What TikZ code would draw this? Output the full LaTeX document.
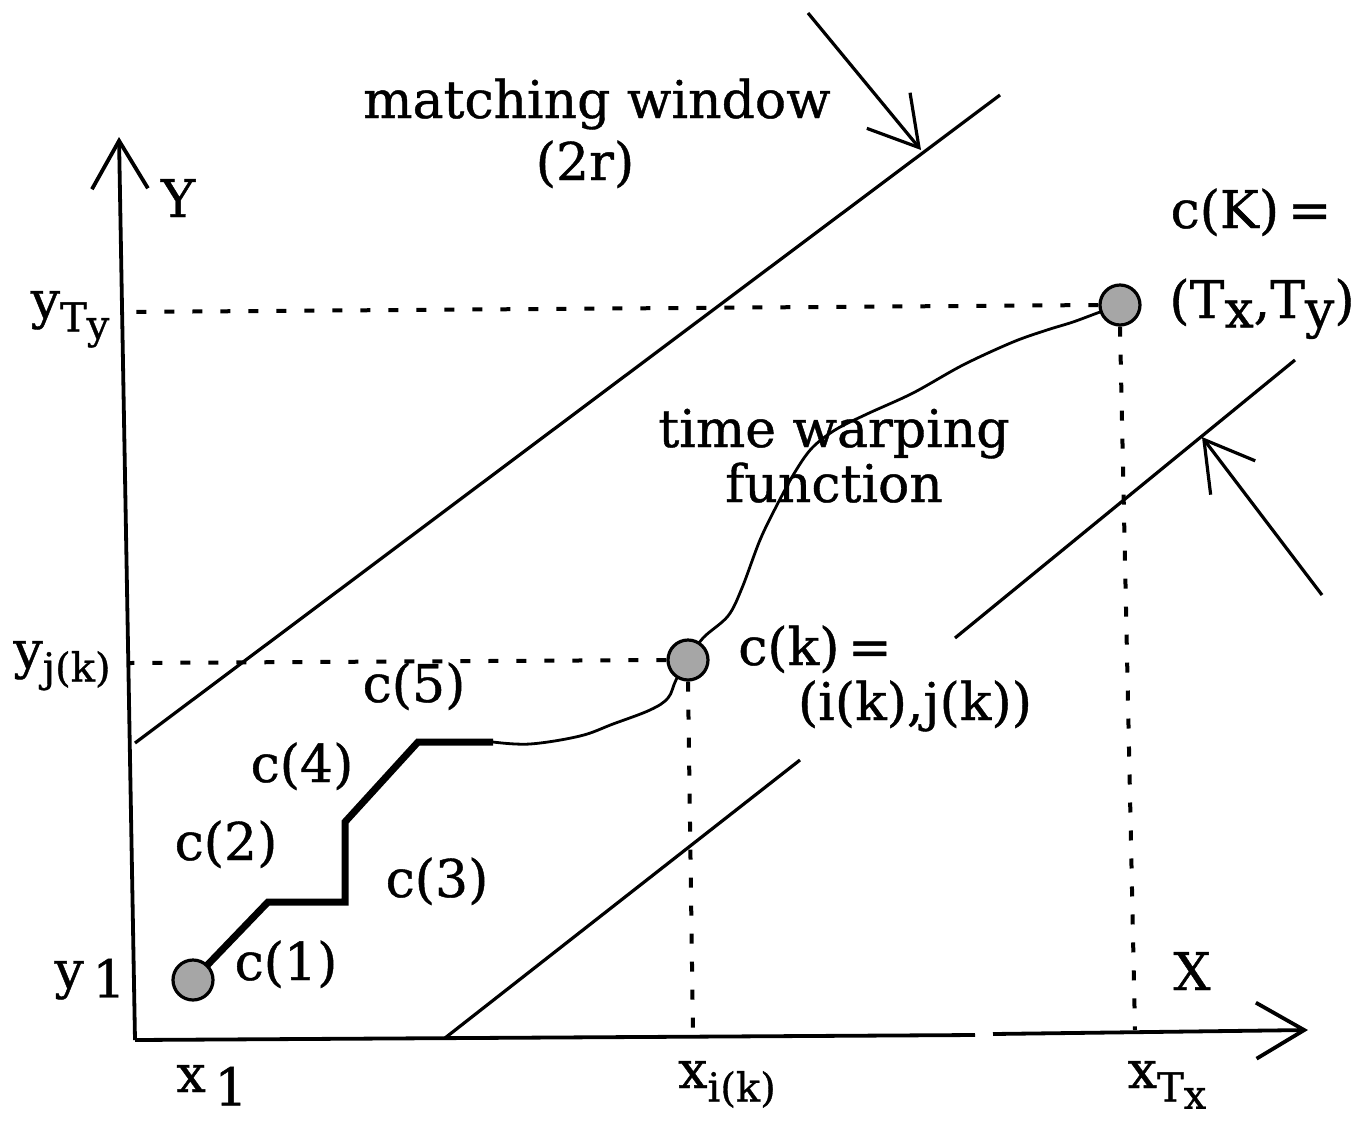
\documentclass[tikz,border=0pt]{standalone}
\usepackage{fontspec}
\setmainfont{DejaVu Serif}
\newfontfamily\heavyserif{DejaVu Serif}[FakeBold=0.8]
\usetikzlibrary{arrows.meta}
\newcommand{\sbs}[1]{\raisebox{-0.5ex}{\fontsize{20}{22}\selectfont #1}}
\newcommand{\ssbs}[1]{\raisebox{-0.35ex}{#1}}
\begin{document}
\begin{tikzpicture}[x=0.5pt,y=-0.5pt,
  lbl/.style={font=\heavyserif\fontsize{26}{30}\selectfont, inner sep=0pt, anchor=base},
  axisline/.style={line width=1.9pt},
  winline/.style={line width=1.6pt},
  barb/.style={-{Straight Barb[length=24pt,width=28pt]}},
  guide/.style={line width=2pt, dash pattern=on 5pt off 9pt},
  dotpt/.style={circle, draw, line width=1.6pt, minimum size=20pt, inner sep=0pt, fill=gray!70},
  thickpath/.style={line width=3.5pt, line join=miter},
  thinpath/.style={line width=1.4pt}]
\useasboundingbox (0,0) rectangle (1362,1126);

% axes
\coordinate (O) at (135,1040);
\coordinate (Ytip) at (119,137);
\coordinate (Xa) at (975,1035);
\coordinate (Xb) at (993,1034);
\coordinate (Xtip) at (1308,1030);
\draw[axisline,barb] (O) -- (Ytip);
\draw[axisline] (O) -- (Xa);
\draw[axisline,barb] (Xb) -- (Xtip);

% matching window lines
\coordinate (W1a) at (135,743);
\coordinate (W1b) at (1000,95);
\coordinate (W2a) at (445,1038);
\coordinate (W2b) at (800,760);
\coordinate (W3a) at (955,638);
\coordinate (W3b) at (1295,360);
\draw[winline] (W1a) -- (W1b);
\draw[winline] (W2a) -- (W2b);
\draw[winline] (W3a) -- (W3b);

% window arrows
\coordinate (A1s) at (808,13);
\coordinate (A1t) at (921,150);
\coordinate (A2s) at (1322,595);
\coordinate (A2t) at (1202,437);
\draw[winline,barb] (A1s) -- (A1t);
\draw[winline,barb] (A2s) -- (A2t);

% warping path
\coordinate (p1) at (193,980);
\coordinate (p2) at (268,902);
\coordinate (p3) at (345,902);
\coordinate (p4) at (345,822);
\coordinate (p5) at (418,742);
\coordinate (p6) at (493,742);
\draw[thickpath] (p1) -- (p2) -- (p3) -- (p4) -- (p5) -- (p6);
\draw[thinpath] plot[smooth, tension=0.6] coordinates {(493,742) (530,744) (580,736) (613,724) (650,710) (668,698) (676,680) (688,660)};
\draw[thinpath] plot[smooth, tension=0.55] coordinates {(688,660) (703,638) (728,616) (742,588) (760,540) (777,505) (795,472) (812,448) (835,430) (867,414) (913,393) (963,365) (1013,342) (1047,330) (1073,322) (1100,312) (1120,305)};

% guide lines
\coordinate (gTy) at (122,312);
\coordinate (gTx) at (1135,1030);
\coordinate (gjk) at (130,663);
\coordinate (gik) at (693,1035);
\node[dotpt] (c1) at (193,980) {};
\node[dotpt] (ck) at (688,660) {};
\node[dotpt] (cK) at (1120,305) {};
\draw[guide] (cK.west) -- (gTy);
\draw[guide] (cK.south) -- (gTx);
\draw[guide] (ck.west) -- (gjk);
\draw[guide] (ck.south) -- (gik);

% labels
\node[lbl] (lmw) at (597,118) {matching window};
\node[lbl] (l2r) at (585,180) {(2r)};
\node[lbl] (lY) at (178,217) {Y};
\node[lbl] (lX) at (1192,990) {X};
\node[lbl] (lcK) at (1251,228) {c(K)\,=};
\node[lbl] (lTT) at (1262,318) {(T\ssbs{x},T\ssbs{y})};
\node[lbl] (ltw) at (834,447) {time warping};
\node[lbl] (lfn) at (834,502) {function};
\node[lbl] (lck) at (815,665) {c(k)\,=};
\node[lbl] (lij) at (915,720) {(i(k),j(k))};
\node[lbl] (lc5) at (414,702) {c(5)};
\node[lbl] (lc4) at (302,782) {c(4)};
\node[lbl] (lc2) at (226,860) {c(2)};
\node[lbl] (lc3) at (437,897) {c(3)};
\node[lbl] (lc1) at (286,980) {c(1)};
\node[lbl] (ly1) at (90,988) {y\,\ssbs{1}};
\node[lbl] (lyjk) at (62,668) {y\sbs{j(k)}};
\node[lbl] (lyTy) at (70,318) {y\sbs{T\ssbs{y}}};
\node[lbl] (lx1) at (212,1092) {x\,\raisebox{-0.5ex}{1}};
\node[lbl] (lxik) at (727,1088) {x\sbs{i(k)}};
\node[lbl] (lxTx) at (1167,1088) {x\sbs{T\ssbs{x}}};
\end{tikzpicture}
\end{document}
